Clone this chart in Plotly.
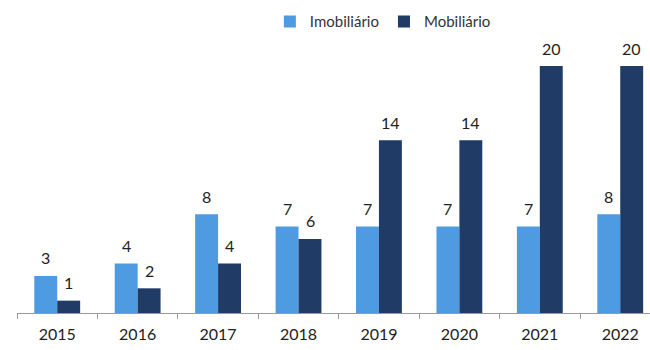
import plotly.graph_objects as go

years = ["2015", "2016", "2017", "2018", "2019", "2020", "2021", "2022"]
imobiliario = [3, 4, 8, 7, 7, 7, 7, 8]
mobiliario = [1, 2, 4, 6, 14, 14, 20, 20]

light_blue = "#4E9BE2"
navy = "#1F3B66"
font_family = "Lato, 'Open Sans', sans-serif"

fig = go.Figure()
fig.add_trace(go.Bar(
    name="Imobiliário", x=years, y=imobiliario,
    marker=dict(color=light_blue, line=dict(width=0)),
))
fig.add_trace(go.Bar(
    name="Mobiliário", x=years, y=mobiliario,
    marker=dict(color=navy, line=dict(width=0)),
))

# value labels above each bar, shifted onto its half of the group
half_bar_px = 11.5
for series, shift in ((imobiliario, -half_bar_px), (mobiliario, half_bar_px)):
    for i, v in enumerate(series):
        fig.add_annotation(
            x=i, y=v, text=str(v), showarrow=False,
            xref="x", yref="y", xshift=shift, yshift=18,
            font=dict(size=16, color="#222222", family=font_family),
        )

fig.update_layout(
    width=650, height=350,
    margin=dict(l=17, r=0, t=50, b=37, autoexpand=False),
    paper_bgcolor="white", plot_bgcolor="white",
    barmode="group", bargap=0.43, bargroupgap=0,
    font=dict(family=font_family, size=15, color="#333333"),
    showlegend=True,
    legend=dict(
        orientation="h", x=0.578, xanchor="center", y=0.985, yanchor="top",
        yref="container", font=dict(size=15, color="#333333"),
        itemwidth=30, tracegroupgap=0, bgcolor="rgba(0,0,0,0)",
    ),
    xaxis=dict(
        type="category", range=[-0.5, 7.37],
        showline=True, linecolor="#9a9a9a", linewidth=1,
        ticks="outside", tickson="boundaries", ticklen=5, tickcolor="#9a9a9a",
        ticklabelstandoff=7,
        showgrid=False, tickfont=dict(size=16, color="#222222"),
    ),
    yaxis=dict(
        range=[0, 21.3], visible=False, showgrid=False, zeroline=False,
    ),
)

fig.write_html("out.html")
